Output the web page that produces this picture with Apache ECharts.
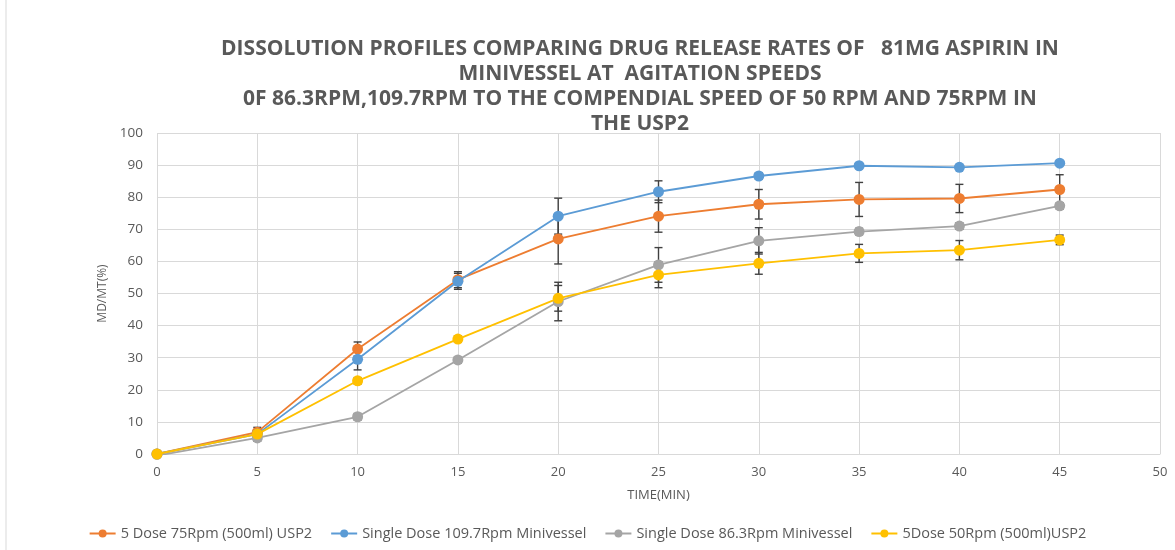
<!DOCTYPE html>
<html>
<head>
<meta charset="utf-8">
<script src="https://cdn.jsdelivr.net/npm/echarts@6/dist/echarts.min.js"></script>
<style>html,body{margin:0;padding:0;background:#fff}#c{width:1175px;height:550px}</style>
</head>
<body>
<div id="c"></div>
<script>
const times = [0, 5, 10, 15, 20, 25, 30, 35, 40, 45];
const seriesNames = ['5 Dose 75Rpm (500ml) USP2', 'Single Dose 109.7Rpm Minivessel', 'Single Dose 86.3Rpm Minivessel', '5Dose 50Rpm (500ml)USP2'];
const colors = ['#ED7D31', '#5B9BD5', '#A5A5A5', '#FFC000'];
const dose75 = [0, 6.8, 32.7, 54.3, 67, 74.1, 77.8, 79.3, 79.6, 82.4];
const single109 = [0, 6.2, 29.5, 53.8, 74.1, 81.7, 86.6, 89.8, 89.3, 90.6];
const single86 = [-0.5, 5, 11.6, 29.3, 47.5, 58.9, 66.4, 69.3, 71, 77.3];
const dose50 = [0, 6.2, 22.8, 35.8, 48.5, 55.8, 59.4, 62.5, 63.5, 66.7];
const dose75Err = [0, 1.5, 2.2, 2.5, 7.8, 5.0, 4.6, 5.3, 4.4, 4.6];
const single109Err = [0, 1, 3.3, 2.5, 5.6, 3.4, 1, 0.5, 0.5, 0.5];
const single86Err = [0, 1, 1, 1, 6, 5.4, 4.1, 1, 1, 1];
const dose50Err = [0, 1, 1, 1, 4, 4, 3.4, 2.8, 3, 1.5];
const xTicks = [0, 50, 5];
const yTicks = [0, 100, 10];

const values = [dose75, single109, single86, dose50];
const errs = [dose75Err, single109Err, single86Err, dose50Err];

const chart = echarts.init(document.getElementById('c'));
const series = [];
values.forEach((v, i) => {
  series.push({
    name: seriesNames[i], type: 'line',
    data: times.map((t, k) => [t, v[k]]),
    symbol: 'circle', symbolSize: 11,
    lineStyle: { color: colors[i], width: 1.8 },
    itemStyle: { color: colors[i] },
    z: 3 + i
  });
  series.push({
    type: 'custom',
    name: seriesNames[i] + ' err',
    data: times.map((t, k) => [t, v[k] - errs[i][k], v[k] + errs[i][k]]),
    renderItem: function (params, api) {
      const lo = api.coord([api.value(0), api.value(1)]);
      const hi = api.coord([api.value(0), api.value(2)]);
      if (Math.abs(hi[1] - lo[1]) < 2) return null;
      const w = 4;
      const st = { stroke: '#404040', lineWidth: 1.4 };
      return { type: 'group', children: [
        { type: 'line', shape: { x1: lo[0], y1: lo[1], x2: hi[0], y2: hi[1] }, style: st },
        { type: 'line', shape: { x1: lo[0] - w, y1: lo[1], x2: lo[0] + w, y2: lo[1] }, style: st },
        { type: 'line', shape: { x1: hi[0] - w, y1: hi[1], x2: hi[0] + w, y2: hi[1] }, style: st }
      ]};
    },
    z: 2, silent: true
  });
});

chart.setOption({
  animation: false,
  color: colors,
  title: {
    text: 'DISSOLUTION PROFILES COMPARING DRUG RELEASE RATES OF   81MG ASPIRIN IN\nMINIVESSEL AT  AGITATION SPEEDS\n0F 86.3RPM,109.7RPM TO THE COMPENDIAL SPEED OF 50 RPM AND 75RPM IN\nTHE USP2',
    left: 635, top: 32, textAlign: 'center',
    textStyle: { fontFamily: 'Open Sans', fontWeight: 'bold', fontSize: 21, color: '#595959', lineHeight: 25 }
  },
  legend: {
    data: seriesNames, bottom: 4, left: 'center', itemWidth: 26, itemHeight: 10, itemGap: 18,
    textStyle: { fontFamily: 'Open Sans', fontSize: 14.5, color: '#595959' }
  },
  grid: { left: 157, right: 15, top: 133, bottom: 96 },
  xAxis: {
    type: 'value', min: xTicks[0], max: xTicks[1], interval: xTicks[2],
    name: 'TIME(MIN)', nameLocation: 'middle', nameGap: 35,
    nameTextStyle: { fontFamily: 'Open Sans', fontSize: 13, color: '#595959' },
    axisLine: { lineStyle: { color: '#D9D9D9' } }, axisTick: { show: false },
    axisLabel: { fontFamily: 'Open Sans', fontSize: 13, color: '#595959', margin: 12 },
    splitLine: { show: true, lineStyle: { color: '#D9D9D9' } }
  },
  yAxis: {
    type: 'value', min: yTicks[0], max: yTicks[1], interval: yTicks[2],
    name: 'MD/MT(%)', nameLocation: 'middle', nameGap: 44, nameRotate: 90,
    nameTextStyle: { fontFamily: 'Open Sans', fontSize: 12, color: '#595959' },
    axisLine: { show: false }, axisTick: { show: false },
    axisLabel: { fontFamily: 'Open Sans', fontSize: 13.5, color: '#595959', margin: 14 },
    splitLine: { show: true, lineStyle: { color: '#D9D9D9' } }
  },
  graphic: [{ type: 'rect', shape: { x: 6, y: -2, width: 1175, height: 560 }, style: { fill: 'none', stroke: '#D9D9D9', lineWidth: 1 }, silent: true }],
  series: series
});
</script>
</body>
</html>
